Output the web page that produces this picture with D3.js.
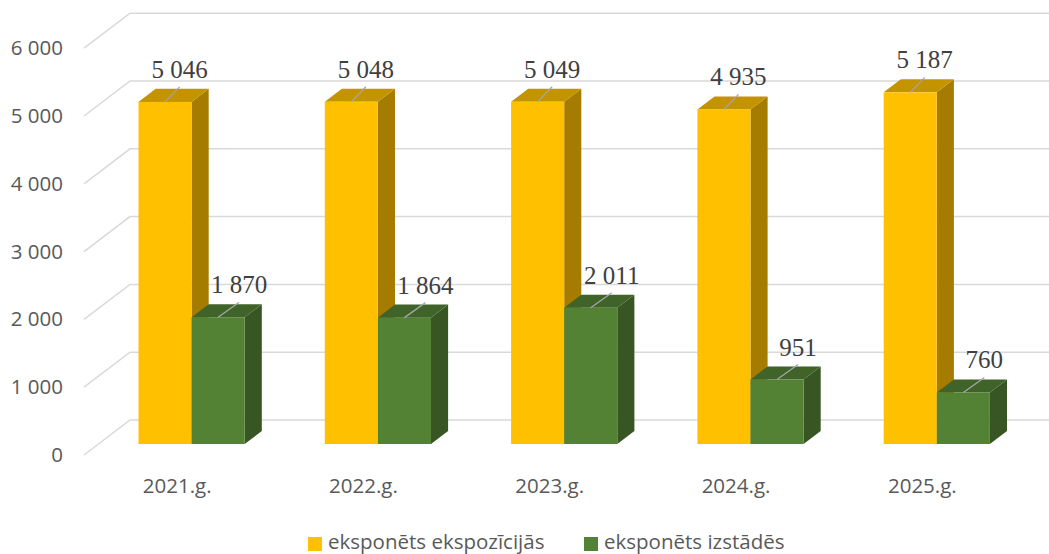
<!DOCTYPE html>
<html>
<head>
<meta charset="utf-8">
<script src="https://cdn.jsdelivr.net/npm/d3@7"></script>
<style>
	body { margin: 0; background: #fff; }
	svg { display: block; }
</style>
</head>
<body>
<script>
// data
const years = ["2021.g.", "2022.g.", "2023.g.", "2024.g.", "2025.g."];
const seriesNames = ["eksponēts ekspozīcijās", "eksponēts izstādēs"];
const exposition = [5046, 5048, 5049, 4935, 5187];
const exhibitions = [1870, 1864, 2011, 951, 760];
const yTicks = [0, 1000, 2000, 3000, 4000, 5000, 6000];

const w = 1049, h = 554;
const colors = [
	{ front: "#FFC000", top: "#C49300", side: "#A67C00" },
	{ front: "#548235", top: "#3F6329", side: "#375623" }
];
// oblique depth of the whole floor, and where the bars sit in it
const depthX = 46, depthY = 35, barD0 = 0.314, barD1 = 0.686;
const labelDx = [14.5, 21];

const fmt = d3.formatLocale({ decimal: ",", thousands: " ", grouping: [3], currency: ["", ""] }).format(",");

const svg = d3.select("body").append("svg")
	.attr("width", w)
	.attr("height", h);

// front plane scales
const x0 = d3.scaleBand()
	.domain(years)
	.range([84, 1015.5])
	.paddingInner(0.43)
	.paddingOuter(0.215);
const x1 = d3.scaleBand()
	.domain([0, 1])
	.range([0, x0.bandwidth()]);
const yScale = d3.scaleLinear()
	.domain([0, 6000])
	.range([455, 455 - 406.8]);

// gridlines: side wall diagonal + back wall line
svg.append("g").selectAll("polyline")
	.data(yTicks)
	.enter()
	.append("polyline")
	.attr("points", d => {
		const yf = yScale(d);
		return [[84, yf], [84 + depthX, yf - depthY], [w, yf - depthY]].map(p => p.join(",")).join(" ");
	})
	.attr("fill", "none")
	.attr("stroke", "#D9D9D9")
	.attr("stroke-width", 1.5);

// y axis labels
svg.append("g").selectAll("text")
	.data(yTicks)
	.enter()
	.append("text")
	.attr("x", 63)
	.attr("y", d => yScale(d) + 7)
	.attr("text-anchor", "end")
	.attr("font-family", "Open Sans")
	.attr("font-size", 20.5)
	.attr("fill", "#595959")
	.text(d => fmt(d));

// bars
const bars = [];
years.forEach((yr, i) => {
	[exposition[i], exhibitions[i]].forEach((v, s) => {
		bars.push({ yr, s, v });
	});
});

const bx = d => x0(d.yr) + x1(d.s) + depthX * barD0;
const by = v => yScale(v) - depthY * barD0;
const bdx = depthX * (barD1 - barD0), bdy = depthY * (barD1 - barD0);
const bw = x1.bandwidth();

const barG = svg.append("g").selectAll("g")
	.data(bars)
	.enter()
	.append("g");

barG.append("polygon")
	.attr("points", d => {
		const l = bx(d) + bw, t = by(d.v), b = by(0);
		return [[l, t], [l + bdx, t - bdy], [l + bdx, b - bdy], [l, b]].join(" ");
	})
	.attr("fill", d => colors[d.s].side);

barG.append("polygon")
	.attr("points", d => {
		const l = bx(d), t = by(d.v);
		return [[l, t], [l + bdx, t - bdy], [l + bw + bdx, t - bdy], [l + bw, t]].join(" ");
	})
	.attr("fill", d => colors[d.s].top);

barG.append("rect")
	.attr("x", d => bx(d))
	.attr("y", d => by(d.v))
	.attr("width", bw)
	.attr("height", d => by(0) - by(d.v))
	.attr("fill", d => colors[d.s].front);

// leader lines + value labels
const lab = svg.append("g").selectAll("g")
	.data(bars)
	.enter()
	.append("g");

lab.append("line")
	.attr("x1", d => bx(d) + bw / 2)
	.attr("y1", d => by(d.v))
	.attr("x2", d => bx(d) + bw / 2 + labelDx[d.s])
	.attr("y2", d => by(d.v) - 15)
	.attr("stroke", "#A6A6A6")
	.attr("stroke-width", 1.3);

lab.append("text")
	.attr("x", d => bx(d) + bw / 2 + labelDx[d.s])
	.attr("y", d => by(d.v) - 24)
	.attr("text-anchor", "middle")
	.attr("font-family", "Liberation Serif")
	.attr("font-size", 25)
	.attr("fill", "#404040")
	.text(d => fmt(d.v));

// category labels
svg.append("g").selectAll("text")
	.data(years)
	.enter()
	.append("text")
	.attr("x", d => x0(d) + x0.bandwidth() / 2)
	.attr("y", 493)
	.attr("text-anchor", "middle")
	.attr("font-family", "Open Sans")
	.attr("font-size", 20.5)
	.attr("fill", "#595959")
	.text(d => d);

// legend
const legendX = [308, 584];
const leg = svg.append("g").selectAll("g")
	.data(seriesNames)
	.enter()
	.append("g")
	.attr("transform", (d, i) => "translate(" + legendX[i] + ", 537)");

leg.append("rect")
	.attr("width", 14)
	.attr("height", 14)
	.attr("fill", (d, i) => colors[i].front);

leg.append("text")
	.attr("x", 20)
	.attr("y", 12)
	.attr("font-family", "Open Sans")
	.attr("font-size", 20.5)
	.attr("fill", "#595959")
	.text(d => d);
</script>
</body>
</html>
